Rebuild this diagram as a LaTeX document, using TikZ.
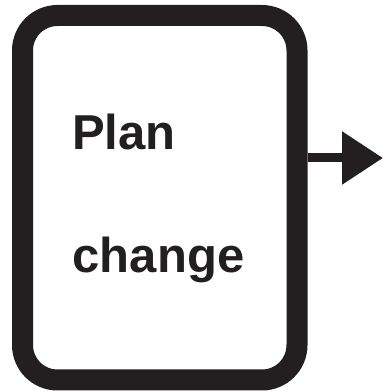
\documentclass[tikz,border=0pt]{standalone}
\usepackage{fontspec}
\setmainfont{Liberation Sans}
\usepackage{xcolor}
\usetikzlibrary{arrows.meta,positioning}
\definecolor{ink}{HTML}{231F20}

\begin{document}
\begin{tikzpicture}[
    x=1pt, y=1pt,
    frame/.style={rectangle, draw=ink, line width=21pt, rounded corners=35pt, minimum width=274.5pt, minimum height=364.5pt},
    label/.style={anchor=base west, inner sep=0pt, text=ink, font=\fontsize{49}{49}\selectfont\bfseries},
    arrow/.style={-{Triangle[length=41pt,width=51pt]}, draw=ink, fill=ink, line width=9pt}
]
  \useasboundingbox (0,0) rectangle (385,392);

  % Box
  \node[frame] (plan) at (159.75,194.25) {};

  % Text
  \node[label] (word1) at (72,242) {Plan};
  \node[label] (word2) at (72.5,120) {change};

  % Arrow
  \coordinate (tip) at (383,234);
  \draw[arrow] (plan.east |- tip) -- (tip);
\end{tikzpicture}
\end{document}
